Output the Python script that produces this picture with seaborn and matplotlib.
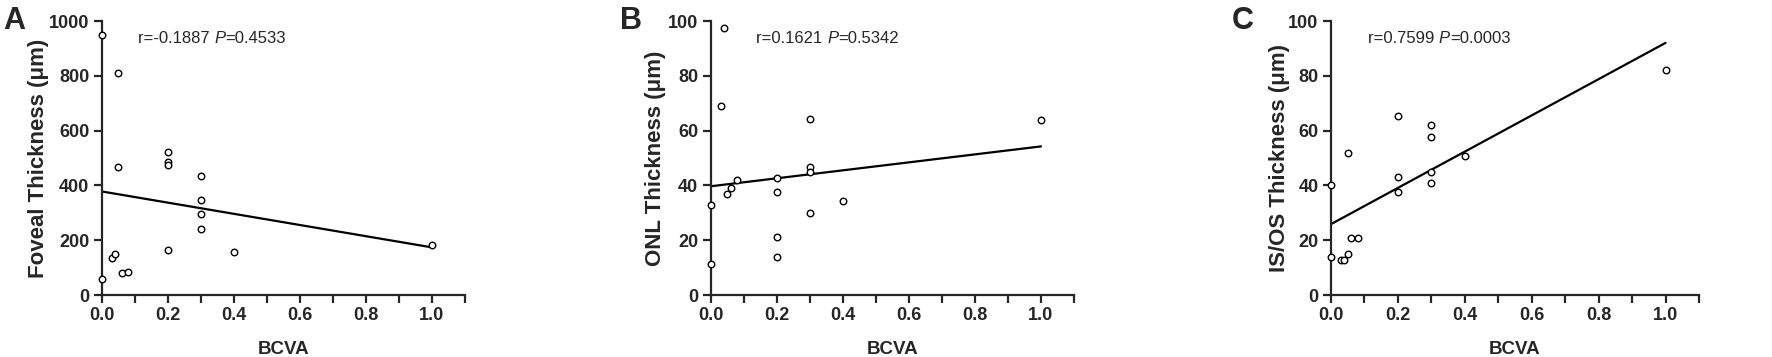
import seaborn as sns
import numpy as np
import matplotlib.pyplot as plt

# BCVA values and thicknesses
bcva_a = [0, 0, 0.03, 0.04, 0.05, 0.05, 0.06, 0.08, 0.2, 0.2, 0.2, 0.2,
          0.3, 0.3, 0.3, 0.3, 0.4, 1.0]
foveal = [950, 57, 136, 151, 811, 468, 80, 84, 522, 486, 476, 166,
          436, 347, 296, 242, 157, 181]

bcva_b = [0, 0, 0.03, 0.04, 0.05, 0.06, 0.08, 0.2, 0.2, 0.2, 0.2,
          0.3, 0.3, 0.3, 0.3, 0.4, 1.0]
onl = [32.7, 11.4, 68.9, 97.6, 36.9, 39.0, 41.8, 42.6, 37.7, 21.3, 13.9,
       64.2, 46.7, 45.0, 30.0, 34.3, 63.8]

bcva_c = [0, 0, 0.03, 0.04, 0.05, 0.05, 0.06, 0.08, 0.2, 0.2, 0.2,
          0.3, 0.3, 0.3, 0.3, 0.4, 1.0]
isos = [40.0, 13.9, 12.6, 12.6, 51.9, 15.0, 20.8, 20.7, 65.4, 42.9, 37.5,
        62.2, 57.7, 45.0, 40.7, 50.9, 82.1]

panels = ["A", "B", "C"]
ylabels = ["Foveal Thickness (μm)", "ONL Thickness (μm)", "IS/OS Thickness (μm)"]
stats = [("r=-0.1887 ", "P", "=0.4533"), ("r=0.1621 ", "P", "=0.5342"),
         ("r=0.7599 ", "P", "=0.0003")]

sns.set_style("ticks")
plt.rcParams['font.family'] = ['Liberation Sans', 'DejaVu Sans']

W, H = 1772, 357
fig = plt.figure(figsize=(W / 100, H / 100), dpi=100)

# axes boxes in pixels: left, width
boxes = [(101.7, 363.3), (710.7, 363.3), (1331, 368)]
ymax = [1000, 100, 100]
xs = [bcva_a, bcva_b, bcva_c]
ys = [foveal, onl, isos]
letter_x = [3, 620, 1232]
label_x = [39, 655, 1280]  # centre of y labels, px

for i in range(3):
    left, width = boxes[i]
    ax = fig.add_axes([left / W, 62 / H, width / W, 274 / H])
    sns.regplot(x=np.array(xs[i]), y=np.array(ys[i]), ax=ax, ci=None, scatter=False,
                line_kws=dict(color="black", lw=1.6), truncate=True)
    ax.scatter(xs[i], ys[i], s=22, facecolors="white", edgecolors="black",
               linewidths=1.0, zorder=3, clip_on=False)
    ax.set_xlim(0, 1.1)
    ax.set_ylim(0, ymax[i])
    ax.set_xticks([0, 0.2, 0.4, 0.6, 0.8, 1.0])
    ax.set_xticklabels(["0.0", "0.2", "0.4", "0.6", "0.8", "1.0"])
    ax.set_xticks([0.1, 0.3, 0.5, 0.7, 0.9, 1.1], minor=True)
    ax.set_yticks(np.linspace(0, ymax[i], 6))
    sns.despine(ax=ax)
    for s in ["left", "bottom"]:
        ax.spines[s].set_linewidth(1.6)
    ax.tick_params(which="both", direction="out", length=6, width=1.6,
                   labelsize=13, pad=3)
    for lab in ax.get_xticklabels() + ax.get_yticklabels():
        lab.set_fontweight("bold")
    ax.set_xlabel("BCVA", fontsize=13.5, fontweight="bold", labelpad=12)
    ax.set_ylabel(ylabels[i], fontsize=16, fontweight="bold", va="center")
    ax.yaxis.set_label_coords((label_x[i] - left) / width, 0.5)
    r_txt, p_txt, v_txt = stats[i]
    t = ax.text(0.10 if i != 1 else 0.125, 0.935, r_txt, transform=ax.transAxes,
                fontsize=12, va="center", ha="left")
    t2 = ax.annotate(p_txt, xycoords=t, xy=(1, 0), va="bottom", fontsize=12,
                     fontstyle="italic")
    ax.annotate(v_txt, xycoords=t2, xy=(1, 0), va="bottom", fontsize=12)
    fig.text(letter_x[i] / W, 1 - 21 / H, panels[i], fontsize=22,
             fontweight="bold", va="center", ha="left")

fig.savefig("out.png", dpi=100)
